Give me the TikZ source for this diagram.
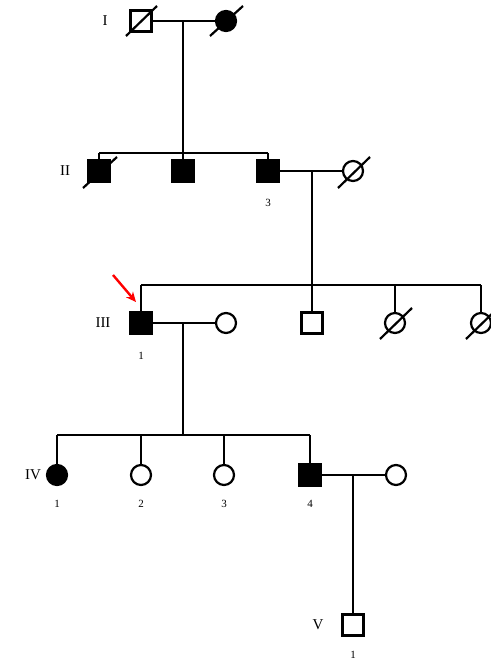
\documentclass[tikz,border=0pt]{standalone}
\usepackage{fontspec}
\setmainfont{Liberation Serif}
\usetikzlibrary{arrows.meta,calc}
\begin{document}
\begin{tikzpicture}[x=1pt,y=-1pt,
  line width=2.2pt,
  male/.style={draw,rectangle,minimum size=21pt,inner sep=0pt},
  female/.style={draw,circle,minimum size=20pt,inner sep=0pt},
  aff/.style={fill=black},
  gen/.style={font=\fontsize{15}{15}\selectfont},
  num/.style={font=\fontsize{11}{11}\selectfont},
  dead/.style={line width=2.2pt}]
\useasboundingbox[fill=white] (0,0) rectangle (490,663);
% Generation I
\node[gen] (gI) at (105,21) {I};
\node[male] (I1) at (141,21) {};
\node[female,aff] (I2) at (226,21) {};
\draw[dead] ($(I1)+(-15,15)$) -- ($(I1)+(16,-15)$);
\draw[dead] ($(I2)+(-16,15)$) -- ($(I2)+(17,-15)$);
\draw (I1.east) -- (I2.west);
\coordinate (mI) at (183,21);
\coordinate (sIIa) at (99,153);
\coordinate (sIIb) at (268,153);
\coordinate (sIIm) at (183,153);
\draw (mI) -- (sIIm);
\draw (sIIa) -- (sIIb);
% Generation II
\node[gen] (gII) at (65,171) {II};
\node[male,aff] (II1) at (99,171) {};
\node[male,aff] (II2) at (183,171) {};
\node[male,aff] (II3) at (268,171) {};
\node[female] (II4) at (353,171) {};
\node[num] (lII3) at (268,203) {3};
\draw[dead] ($(II1)+(-16,17)$) -- ($(II1)+(18,-14)$);
\draw[dead] ($(II4)+(-15,17)$) -- ($(II4)+(17,-14)$);
\draw (sIIa) -- (II1.north);
\draw (sIIm) -- (II2.north);
\draw (sIIb) -- (II3.north);
\draw (II3.east) -- (II4.west);
\coordinate (mII) at (312,171);
\coordinate (sIIIa) at (141,285);
\coordinate (sIIIb) at (481,285);
\coordinate (sIIIm) at (312,285);
\draw (mII) -- (sIIIm);
\draw (sIIIa) -- (sIIIb);
% Generation III
\node[gen] (gIII) at (103,323) {III};
\node[male,aff] (III1) at (141,323) {};
\node[female] (III2) at (226,323) {};
\node[male] (III3) at (312,323) {};
\node[female] (III4) at (395,323) {};
\node[female] (III5) at (481,323) {};
\node[num] (lIII1) at (141,356) {1};
\draw[dead] ($(III4)+(-15,16)$) -- ($(III4)+(17,-15)$);
\draw[dead] ($(III5)+(-15,16)$) -- ($(III5)+(17,-15)$);
\draw (sIIIa) -- (III1.north);
\draw (sIIIm) -- (III3.north);
\draw (III4.north |- sIIIa) -- (III4.north);
\draw (sIIIb) -- (III5.north);
\draw (III1.east) -- (III2.west);
\coordinate (arrS) at (113,275);
\coordinate (arrE) at (136,302);
\draw[red,line width=2.4pt,-{Stealth[length=10pt,width=9pt]}] (arrS) -- (arrE);
\coordinate (mIII) at (183,323);
\coordinate (sIVa) at (57,435);
\coordinate (sIVb) at (310,435);
\coordinate (sIVm) at (183,435);
\draw (mIII) -- (sIVm);
\draw (sIVa) -- (sIVb);
% Generation IV
\node[gen] (gIV) at (33,475) {IV};
\node[female,aff] (IV1) at (57,475) {};
\node[female] (IV2) at (141,475) {};
\node[female] (IV3) at (224,475) {};
\node[male,aff] (IV4) at (310,475) {};
\node[female] (IV5) at (396,475) {};
\node[num] (lIV1) at (57,504) {1};
\node[num] (lIV2) at (141,504) {2};
\node[num] (lIV3) at (224,504) {3};
\node[num] (lIV4) at (310,504) {4};
\draw (sIVa) -- (IV1.north);
\draw (IV2.north |- sIVa) -- (IV2.north);
\draw (IV3.north |- sIVa) -- (IV3.north);
\draw (sIVb) -- (IV4.north);
\draw (IV4.east) -- (IV5.west);
\coordinate (mIV) at (353,475);
% Generation V
\node[gen] (gV) at (318,625) {V};
\node[male] (V1) at (353,625) {};
\node[num] (lV1) at (353,655) {1};
\draw (mIV) -- (V1.north);
\end{tikzpicture}
\end{document}
